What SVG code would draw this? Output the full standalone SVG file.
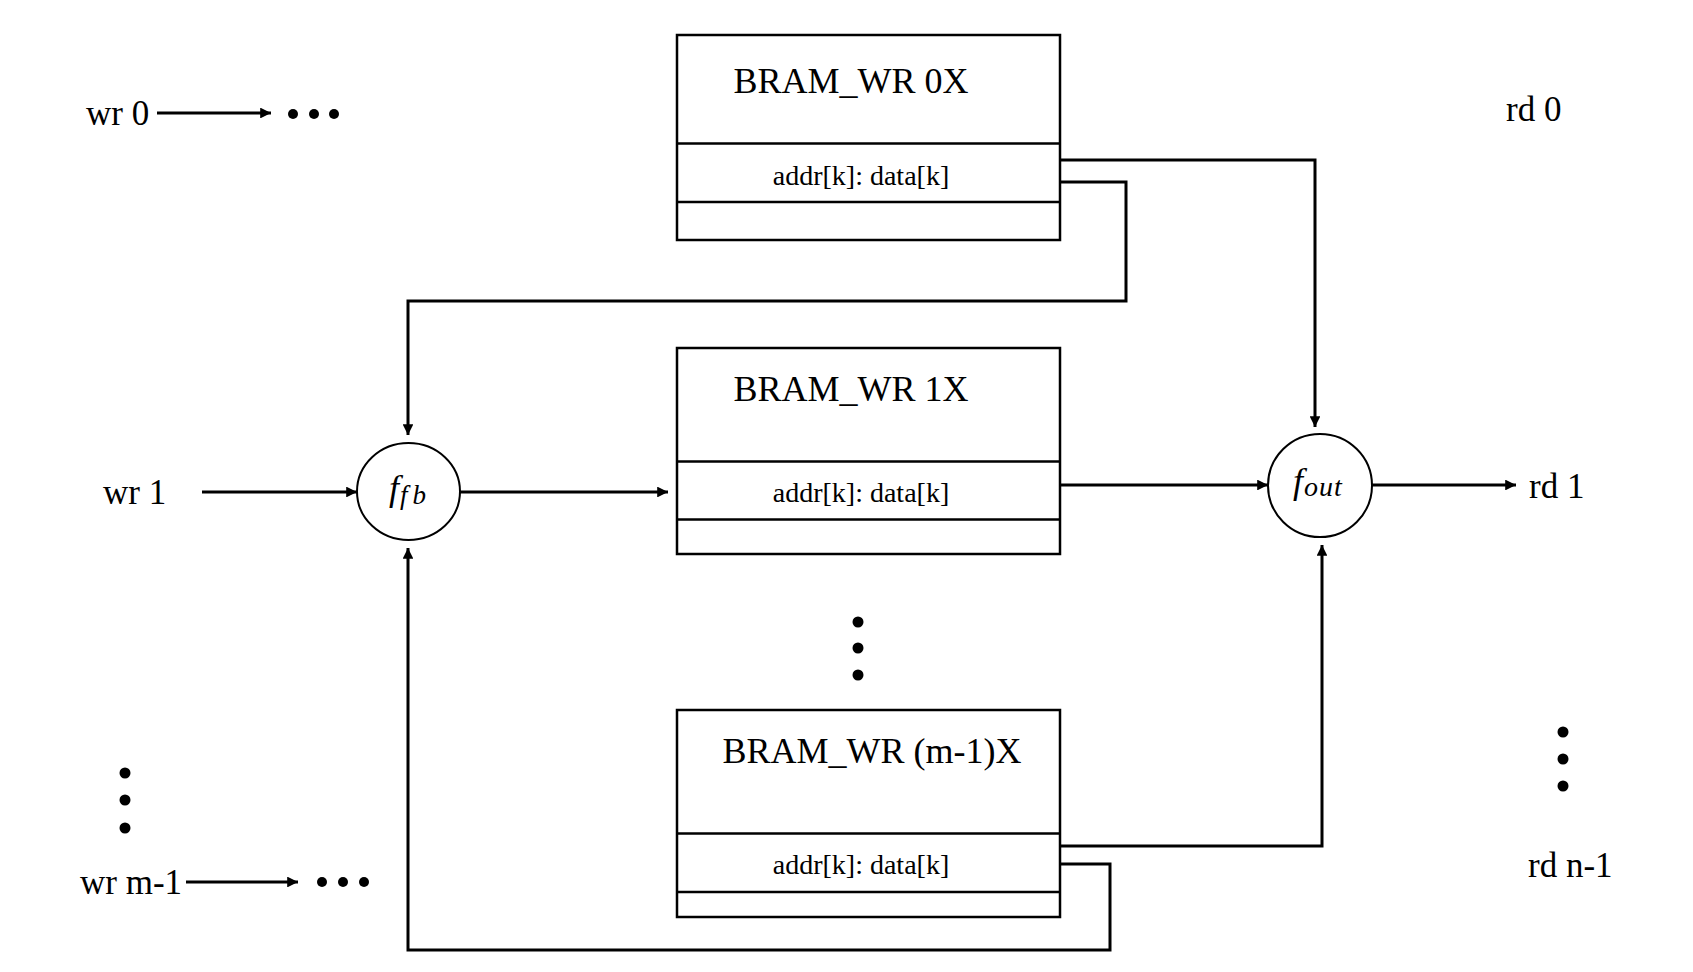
<svg xmlns="http://www.w3.org/2000/svg" width="1693" height="972" viewBox="0 0 1693 972">
<style>
.box{fill:#fff;stroke:#000;stroke-width:2.5}
.div{stroke:#000;stroke-width:2.5}
.wire{fill:none;stroke:#000;stroke-width:3}
.node{fill:#fff;stroke:#000;stroke-width:2}
.t{font-family:"Liberation Serif","Times New Roman",serif;fill:#000}
.title{font-size:36px;text-anchor:middle}
.sub{font-size:28px;text-anchor:middle}
.lbl{font-size:35px}
.m{font-family:"Liberation Serif",serif;font-style:italic;fill:#000}
</style>
<defs>
<marker id="ah" viewBox="0 0 10 10" refX="10" refY="5" markerWidth="4" markerHeight="3.6" markerUnits="strokeWidth" orient="auto">
<path d="M0,0 L10,5 L0,10 z" fill="#000"/>
</marker>
</defs>
<rect width="1693" height="972" fill="#fff"/>

<g id="connectors">
<path class="wire" marker-end="url(#ah)" d="M157,113 H271"/>
<path class="wire" marker-end="url(#ah)" d="M202,492 H357"/>
<path class="wire" marker-end="url(#ah)" d="M460,492 H668"/>
<path class="wire" marker-end="url(#ah)" d="M1060,182 H1126 V301 H408 V435"/>
<path class="wire" marker-end="url(#ah)" d="M1060,160 H1315 V427"/>
<path class="wire" marker-end="url(#ah)" d="M1060,485 H1268"/>
<path class="wire" marker-end="url(#ah)" d="M1372,485 H1516"/>
<path class="wire" marker-end="url(#ah)" d="M1060,846 H1322 V545"/>
<path class="wire" marker-end="url(#ah)" d="M1060,864 H1110 V950 H408 V548"/>
<path class="wire" marker-end="url(#ah)" d="M186,882 H298"/>
</g>

<g id="bram0">
<rect class="box" x="677" y="35" width="383" height="205"/>
<line class="div" x1="677" y1="143.5" x2="1060" y2="143.5"/>
<line class="div" x1="677" y1="202" x2="1060" y2="202"/>
<text class="t title" x="851" y="93">BRAM_WR 0X</text>
<text class="t sub" x="861" y="185">addr[k]: data[k]</text>
</g>

<g id="bram1">
<rect class="box" x="677" y="348" width="383" height="206"/>
<line class="div" x1="677" y1="461.5" x2="1060" y2="461.5"/>
<line class="div" x1="677" y1="519.5" x2="1060" y2="519.5"/>
<text class="t title" x="851" y="401">BRAM_WR 1X</text>
<text class="t sub" x="861" y="502">addr[k]: data[k]</text>
</g>

<g id="bram2">
<rect class="box" x="677" y="710" width="383" height="207"/>
<line class="div" x1="677" y1="833.5" x2="1060" y2="833.5"/>
<line class="div" x1="677" y1="892" x2="1060" y2="892"/>
<text class="t title" x="872" y="763">BRAM_WR (m-1)X</text>
<text class="t sub" x="861" y="874">addr[k]: data[k]</text>
</g>

<g id="ffb">
<ellipse class="node" cx="408.5" cy="491.5" rx="51.5" ry="48.5"/>
<text class="m" x="389" y="500" font-size="36">f<tspan font-size="27" dx="1" dy="4">f</tspan><tspan font-size="27" dx="5">b</tspan></text>
</g>

<g id="fout">
<ellipse class="node" cx="1320" cy="485.5" rx="52" ry="51.5"/>
<text class="m" x="1293" y="493" font-size="36">f<tspan font-size="28" dx="1" dy="3">o</tspan><tspan font-size="28" dx="1">u</tspan><tspan font-size="28" dx="1">t</tspan></text>
</g>

<g id="labels">
<text class="t lbl" x="86" y="125">wr 0</text>
<text class="t lbl" x="103" y="504">wr 1</text>
<text class="t lbl" x="80" y="894">wr m-1</text>
<text class="t lbl" x="1506" y="121">rd 0</text>
<text class="t lbl" x="1529" y="498">rd 1</text>
<text class="t lbl" x="1528" y="877">rd n-1</text>
</g>

<g id="dots">
<circle cx="293" cy="114" r="5"/><circle cx="314" cy="114" r="5"/><circle cx="334" cy="114" r="5"/>
<circle cx="322" cy="882" r="5"/><circle cx="343" cy="882" r="5"/><circle cx="364" cy="882" r="5"/>
<circle cx="125" cy="773" r="5.5"/><circle cx="125" cy="800" r="5.5"/><circle cx="125" cy="828" r="5.5"/>
<circle cx="858" cy="622" r="5.5"/><circle cx="858" cy="648" r="5.5"/><circle cx="858" cy="675" r="5.5"/>
<circle cx="1563" cy="732" r="5.5"/><circle cx="1563" cy="759" r="5.5"/><circle cx="1563" cy="786" r="5.5"/>
</g>
</svg>
